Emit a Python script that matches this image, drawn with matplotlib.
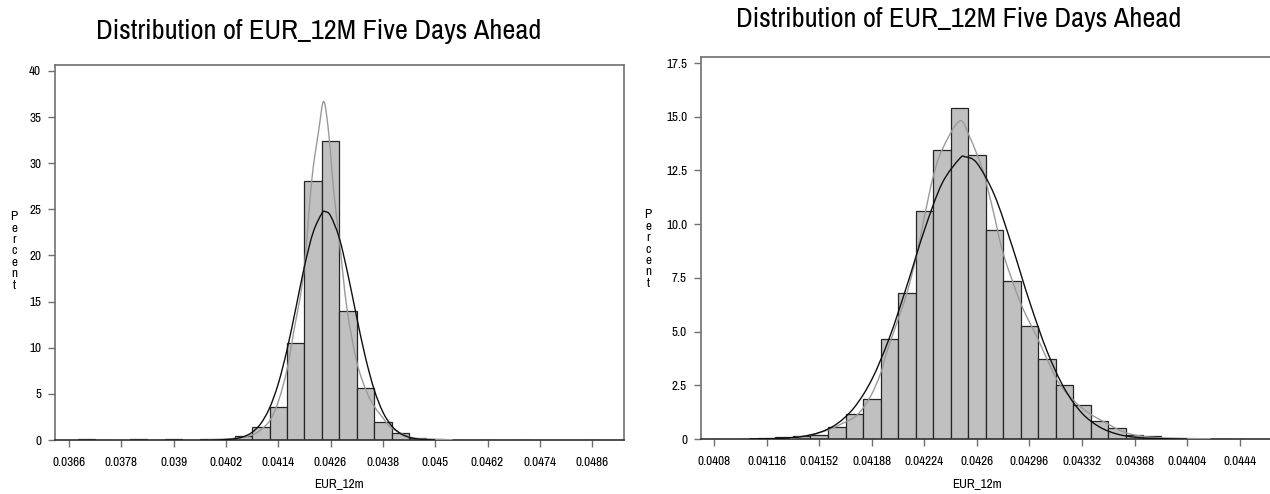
import matplotlib
matplotlib.use("Agg")
import matplotlib.pyplot as plt
from matplotlib import font_manager as fm
from matplotlib.path import Path
from matplotlib.patches import PathPatch

# ---------------- data ----------------
left_mid = [0.0370, 0.0374, 0.0382, 0.0386, 0.0390, 0.0394, 0.0398, 0.0402, 0.0406,
            0.0410, 0.0414, 0.0418, 0.0422, 0.0426, 0.0430, 0.0434, 0.0438, 0.0442,
            0.0446, 0.0450, 0.0454, 0.0462, 0.0470, 0.0486]
left_pct = [0.08, 0.03, 0.08, 0.02, 0.06, 0.05, 0.08, 0.15, 0.45,
            1.4, 3.55, 10.55, 28.1, 32.4, 14.0, 5.6, 1.9, 0.72,
            0.2, 0.08, 0.03, 0.05, 0.05, 0.05]
left_bin = 0.0004
left_ticks = [0.0366, 0.0378, 0.0390, 0.0402, 0.0414, 0.0426, 0.0438, 0.0450, 0.0462, 0.0474, 0.0486]
left_ticklabels = ["0.0366", "0.0378", "0.039", "0.0402", "0.0414", "0.0426", "0.0438",
                   "0.045", "0.0462", "0.0474", "0.0486"]
left_yticks = [0, 5, 10, 15, 20, 25, 30, 35, 40]
left_yticklabels = ["0", "5", "10", "15", "20", "25", "30", "35", "40"]

left_norm_x = [0.0398, 0.0400, 0.0402, 0.0404, 0.0406, 0.0408, 0.0410, 0.0412, 0.0414,
               0.0416, 0.0418, 0.0420, 0.0422, 0.0424, 0.04248, 0.0426, 0.0428, 0.0430,
               0.0432, 0.0434, 0.0436, 0.0438, 0.0440, 0.0442, 0.0444, 0.0446, 0.0448, 0.0450]
left_norm_y = [0.004, 0.015, 0.05, 0.14, 0.35, 0.83, 1.78, 3.46, 6.09,
               9.76, 14.2, 18.8, 22.5, 24.56, 24.75, 24.3, 21.9, 17.9,
               13.3, 8.96, 5.46, 3.03, 1.54, 0.71, 0.30, 0.11, 0.04, 0.012]

left_kde_x = [0.0398, 0.0402, 0.0406, 0.04083, 0.0410, 0.04122, 0.04141, 0.0416, 0.04175,
              0.04198, 0.04217, 0.04233, 0.04244, 0.04255, 0.04267, 0.0428, 0.04298,
              0.04321, 0.04344, 0.04361, 0.0438, 0.04401, 0.04443, 0.0448, 0.0454]
left_kde_y = [0.02, 0.1, 0.3, 0.6, 1.1, 2.2, 4.3, 7.6, 11.6,
              18.0, 28.2, 33.6, 36.7, 33.6, 27.1, 21.7, 14.1,
              8.3, 5.1, 3.6, 2.4, 1.27, 0.3, 0.1, 0.03]

right_mid = [0.04104, 0.04116, 0.04128, 0.04140, 0.04152, 0.04164, 0.04176, 0.04188,
             0.04200, 0.04212, 0.04224, 0.04236, 0.04248, 0.04260, 0.04272, 0.04284,
             0.04296, 0.04308, 0.04320, 0.04332, 0.04344, 0.04356, 0.04368, 0.04380,
             0.04392, 0.04404, 0.04416, 0.04428]
right_pct = [0.02, 0.05, 0.08, 0.14, 0.19, 0.54, 1.16, 1.84,
             4.67, 6.8, 10.6, 13.43, 15.41, 13.24, 9.72, 7.36,
             5.26, 3.72, 2.50, 1.57, 0.84, 0.50, 0.19, 0.14,
             0.02, 0.02, 0.02, 0.02]
right_bin = 0.00012
right_ticks = [0.0408, 0.04116, 0.04152, 0.04188, 0.04224, 0.0426, 0.04296, 0.04332,
               0.04368, 0.04404, 0.0444]
right_ticklabels = ["0.0408", "0.04116", "0.04152", "0.04188", "0.04224", "0.0426",
                    "0.04296", "0.04332", "0.04368", "0.04404", "0.0444"]
right_yticks = [0, 2.5, 5.0, 7.5, 10.0, 12.5, 15.0, 17.5]
right_yticklabels = ["0", "2.5", "5.0", "7.5", "10.0", "12.5", "15.0", "17.5"]

right_norm_x = [0.04104, 0.04116, 0.04128, 0.04140, 0.04152, 0.04164, 0.04176, 0.04188,
                0.04200, 0.04212, 0.04224, 0.04236, 0.04248, 0.04252, 0.04260, 0.04272,
                0.04284, 0.04296, 0.04308, 0.04320, 0.04332, 0.04344, 0.04356, 0.04368,
                0.04380, 0.04392, 0.04404]
right_norm_y = [0.003, 0.012, 0.039, 0.114, 0.30, 0.70, 1.47, 2.77,
                4.70, 7.13, 9.72, 11.88, 13.04, 13.13, 12.84, 11.35,
                9.0, 6.40, 4.09, 2.34, 1.20, 0.56, 0.23, 0.085,
                0.029, 0.01, 0.003]

right_kde_x = [0.04132, 0.04146, 0.04158, 0.04168, 0.04178, 0.04187, 0.04194, 0.04198,
               0.04205, 0.04212, 0.04219, 0.04224, 0.0423, 0.04236, 0.04248, 0.04255,
               0.04264, 0.04271, 0.04278, 0.0429, 0.04301, 0.04315, 0.04326, 0.04337,
               0.04349, 0.0436, 0.04372, 0.04388, 0.0442]
right_kde_y = [0.03, 0.19, 0.42, 0.73, 1.12, 1.97, 3.05, 3.99,
               5.38, 6.78, 8.64, 10.34, 12.2, 13.44, 14.8, 14.06,
               12.5, 10.65, 8.64, 6.31, 4.76, 2.74, 1.81, 1.19,
               0.73, 0.34, 0.14, 0.05, 0.01]

title_text = "Distribution of EUR_12M Five Days Ahead"
xlabel_text = "EUR_12m"
ylabel_text = "Percent"

# ---------------- fonts ----------------
# prefer a narrow / condensed sans face if one is installed
cond_family, cond_stretch = None, "normal"
for f in fm.fontManager.ttflist:
    nm = f.name
    st = str(f.stretch)
    if ("Narrow" in nm or "Condensed" in nm) and "Mono" not in nm and "Serif" not in nm:
        cond_family, cond_stretch = nm, st
        break
if cond_family is None:
    for f in fm.fontManager.ttflist:
        st = str(f.stretch)
        if st in ("condensed", "semi-condensed", "575", "600", "625", "650", "700") \
                and "Mono" not in f.name and "Serif" not in f.name and f.style == "normal":
            cond_family, cond_stretch = f.name, "condensed"
            break

if cond_family is not None:
    FONT = dict(family=[cond_family, "DejaVu Sans"], stretch=cond_stretch)
    title_size, tick_size = 20.4, 9.5
else:
    FONT = dict(family=["Liberation Sans", "DejaVu Sans"])
    title_size, tick_size = 17, 8.2
plt.rcParams["font.family"] = FONT["family"]
if "stretch" in FONT:
    plt.rcParams["font.stretch"] = FONT["stretch"]

W, H = 1270, 494
fig = plt.figure(figsize=(W / 100, H / 100), dpi=100)


def fx(px):
    return px / W


def fy(py):
    return 1 - py / H


def smooth_path(xs, ys):
    # Catmull-Rom through the read points, drawn as cubic Bezier segments
    pts = list(zip(xs, ys))
    verts = [pts[0]]
    codes = [Path.MOVETO]
    n = len(pts)
    for i in range(n - 1):
        p0 = pts[i - 1] if i > 0 else pts[i]
        p1 = pts[i]
        p2 = pts[i + 1]
        p3 = pts[i + 2] if i + 2 < n else pts[i + 1]
        c1 = (p1[0] + (p2[0] - p0[0]) / 6, p1[1] + (p2[1] - p0[1]) / 6)
        c2 = (p2[0] - (p3[0] - p1[0]) / 6, p2[1] - (p3[1] - p1[1]) / 6)
        verts += [c1, c2, p2]
        codes += [Path.CURVE4] * 3
    return Path(verts, codes)


spine_col = "#707070"


def make_axes(rect, xlim, ylim, mids, pcts, binw, xt, xtl, yt, ytl, nx, ny, kx, ky, show_right):
    ax = fig.add_axes(rect)
    ax.bar(mids, pcts, width=binw, color="#c0c0c0", edgecolor="#252525", linewidth=0.9, zorder=2)
    ax.add_patch(PathPatch(smooth_path(kx, ky), fill=False, edgecolor="#9a9a9a", lw=1.0, zorder=3))
    ax.add_patch(PathPatch(smooth_path(nx, ny), fill=False, edgecolor="#101010", lw=1.0, zorder=4))
    ax.set_xlim(*xlim)
    ax.set_ylim(*ylim)
    ax.set_xticks(xt)
    ax.set_xticklabels(xtl)
    ax.set_yticks(yt)
    ax.set_yticklabels(ytl)
    ax.tick_params(axis="both", direction="out", length=5, width=1, color=spine_col,
                   labelsize=tick_size, pad=5)
    ax.tick_params(axis="x", pad=7)
    for s in ax.spines.values():
        s.set_color(spine_col)
        s.set_linewidth(1.2)
    ax.spines["bottom"].set_color("#303030")
    ax.spines["right"].set_visible(show_right)
    return ax


# left panel: x 55-624 px, y 65-440 px
axL = make_axes([fx(55), fy(440), fx(624) - fx(55), fy(65) - fy(440)],
                (0.03628, 0.04933), (0, 40.65), left_mid, left_pct, left_bin,
                left_ticks, left_ticklabels, left_yticks, left_yticklabels,
                left_norm_x, left_norm_y, left_kde_x, left_kde_y, True)

# right panel: x 701-1272 px, y 57-439 px
axR = make_axes([fx(701), fy(439), fx(1272) - fx(701), fy(57) - fy(439)],
                (0.04071, 0.044621), (0, 17.78), right_mid, right_pct, right_bin,
                right_ticks, right_ticklabels, right_yticks, right_yticklabels,
                right_norm_x, right_norm_y, right_kde_x, right_kde_y, False)

# titles
fig.text(fx(319), fy(32), title_text, ha="center", va="center", fontsize=title_size, color="black")
fig.text(fx(959), fy(19), title_text, ha="center", va="center", fontsize=title_size, color="black")

# x labels
fig.text(fx(339), fy(484), xlabel_text, ha="center", va="center", fontsize=tick_size)
fig.text(fx(977), fy(484), xlabel_text, ha="center", va="center", fontsize=tick_size)

# stacked y labels
stack = "\n".join(list(ylabel_text))
fig.text(fx(14), fy(251), stack, ha="center", va="center", fontsize=tick_size, linespacing=1.05)
fig.text(fx(648), fy(249), stack, ha="center", va="center", fontsize=tick_size, linespacing=1.05)

fig.savefig("out.png", dpi=100)
